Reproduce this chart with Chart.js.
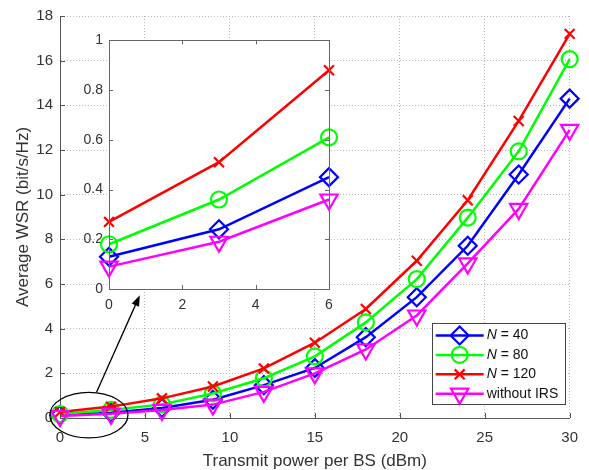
<!DOCTYPE html>
<html>
<head>
<meta charset="utf-8">
<script src="https://cdn.jsdelivr.net/npm/chart.js"></script>
<style>
  html, body { margin: 0; padding: 0; background: #fff; }
  #wrap { position: relative; width: 589px; height: 470px; }
  #mainChart { position: absolute; left: 0; top: 0; }
  #insetChart { position: absolute; left: 64px; top: 26px; }
</style>
</head>
<body>
<div id="wrap">
  <canvas id="mainChart" width="589" height="470"></canvas>
  <canvas id="insetChart" width="280" height="300"></canvas>
</div>
<script>
// Transmit power per BS (dBm)
const powerDbm = [0, 3, 6, 9, 12, 15, 18, 21, 24, 27, 30];
// Average WSR (bit/s/Hz)
const wsrN40   = [0.13, 0.24, 0.45, 0.82, 1.47, 2.24, 3.62, 5.41, 7.71, 10.9, 14.3];
const wsrN80   = [0.18, 0.36, 0.61, 1.10, 1.78, 2.76, 4.28, 6.22, 8.97, 11.94, 16.07];
const wsrN120  = [0.27, 0.51, 0.88, 1.41, 2.22, 3.37, 4.88, 7.04, 9.75, 13.3, 17.2];
const wsrNoIrs = [0.09, 0.19, 0.36, 0.60, 1.17, 2.00, 3.07, 4.59, 6.92, 9.36, 12.9];

const seriesNames = ['N = 40', 'N = 80', 'N = 120', 'without IRS'];

const mainXTicks = [0, 5, 10, 15, 20, 25, 30];
const mainYTicks = [0, 2, 4, 6, 8, 10, 12, 14, 16, 18];
const insetXTicks = [0, 2, 4, 6];
const insetYTicks = [0, 0.2, 0.4, 0.6, 0.8, 1];
const insetCount = 3; // zoomed view shows the first three power levels

const FONT = '"Liberation Sans", Arial, Helvetica, sans-serif';
const TEXT = '#333333';
const AXIS = '#555555';

const markers = [
    { color: '#0000ff', pointStyle: 'rectRot', radius: 9, rotation: 0 },
    { color: '#00ff00', pointStyle: 'circle', radius: 8, rotation: 0 },
    { color: '#ff0000', pointStyle: 'crossRot', radius: 7, rotation: 0 },
    { color: '#ff00ff', pointStyle: 'triangle', radius: 10, rotation: 180 }
];
const allSeries = [wsrN40, wsrN80, wsrN120, wsrNoIrs];

function makeDatasets(count) {
    return allSeries.map((vals, i) => ({
        label: seriesNames[i],
        data: powerDbm.slice(0, count).map((p, k) => ({ x: p, y: vals[k] })),
        borderColor: markers[i].color,
        backgroundColor: 'rgba(0,0,0,0)',
        borderWidth: 2.5,
        pointStyle: markers[i].pointStyle,
        pointRadius: markers[i].radius,
        pointRotation: markers[i].rotation,
        pointBorderWidth: 2.2,
        pointBorderColor: markers[i].color,
        pointBackgroundColor: 'rgba(0,0,0,0)',
        tension: 0,
        clip: false,
        order: 3 - i
    }));
}

function setTicks(arr) {
    return scale => { scale.ticks = arr.map(v => ({ value: v })); };
}

// own marker drawing for the legend
function drawMarker(ctx, m, x, y) {
    const r = m.radius;
    ctx.save();
    ctx.strokeStyle = m.color;
    ctx.lineWidth = 2.2;
    ctx.beginPath();
    if (m.pointStyle === 'rectRot') {
        ctx.moveTo(x, y - r); ctx.lineTo(x + r, y); ctx.lineTo(x, y + r); ctx.lineTo(x - r, y); ctx.closePath();
    } else if (m.pointStyle === 'circle') {
        ctx.arc(x, y, r, 0, Math.PI * 2);
    } else if (m.pointStyle === 'crossRot') {
        const d = r * Math.SQRT1_2;
        ctx.moveTo(x - d, y - d); ctx.lineTo(x + d, y + d);
        ctx.moveTo(x + d, y - d); ctx.lineTo(x - d, y + d);
    } else {
        const a = r * Math.sin(Math.PI / 3), b = r / 2;
        ctx.moveTo(x, y + r); ctx.lineTo(x - a, y - b); ctx.lineTo(x + a, y - b); ctx.closePath();
    }
    ctx.stroke();
    ctx.restore();
}

const mainDecor = {
    id: 'mainDecor',
    afterDatasetsDraw(chart) {
        const { ctx, chartArea, scales: { x, y } } = chart;
        ctx.save();
        // inward ticks
        ctx.strokeStyle = AXIS;
        ctx.lineWidth = 1;
        ctx.beginPath();
        mainXTicks.forEach(v => {
            const px = Math.round(x.getPixelForValue(v)) + 0.5;
            ctx.moveTo(px, chartArea.bottom); ctx.lineTo(px, chartArea.bottom - 5);
        });
        mainYTicks.forEach(v => {
            const py = Math.round(y.getPixelForValue(v)) + 0.5;
            ctx.moveTo(chartArea.left, py); ctx.lineTo(chartArea.left + 5, py);
        });
        ctx.stroke();

        // ellipse around the zoomed region
        const cx = x.getPixelForValue(1.7), cy = y.getPixelForValue(0.13);
        const rx = x.getPixelForValue(1.7 + 2.3) - cx;
        const ry = cy - y.getPixelForValue(0.13 + 1.02);
        ctx.strokeStyle = '#000';
        ctx.lineWidth = 1.3;
        ctx.beginPath();
        ctx.ellipse(cx, cy, rx, ry, 0, 0, Math.PI * 2);
        ctx.stroke();

        // arrow to the inset
        const x0 = x.getPixelForValue(2.15), y0 = y.getPixelForValue(1.15);
        const x1 = x.getPixelForValue(4.7), y1 = y.getPixelForValue(5.5);
        const ang = Math.atan2(y1 - y0, x1 - x0);
        ctx.beginPath();
        ctx.moveTo(x0, y0);
        ctx.lineTo(x1 - 9 * Math.cos(ang), y1 - 9 * Math.sin(ang));
        ctx.stroke();
        ctx.fillStyle = '#000';
        ctx.beginPath();
        ctx.moveTo(x1, y1);
        ctx.lineTo(x1 - 11 * Math.cos(ang) + 4 * Math.sin(ang), y1 - 11 * Math.sin(ang) - 4 * Math.cos(ang));
        ctx.lineTo(x1 - 11 * Math.cos(ang) - 4 * Math.sin(ang), y1 - 11 * Math.sin(ang) + 4 * Math.cos(ang));
        ctx.closePath();
        ctx.fill();
        ctx.restore();
    },
    afterDraw(chart) {
        // legend box, bottom right
        const { ctx, chartArea } = chart;
        const w = 133, h = 81;
        const left = chartArea.right - w - 5, top = chartArea.bottom - h - 14;
        ctx.save();
        ctx.fillStyle = '#fff';
        ctx.fillRect(left, top, w, h);
        ctx.strokeStyle = '#444';
        ctx.lineWidth = 1;
        ctx.strokeRect(Math.round(left) + 0.5, Math.round(top) + 0.5, w, h);
        ctx.textBaseline = 'middle';
        seriesNames.forEach((name, i) => {
            const ry = top + 12.5 + i * 19.4;
            ctx.strokeStyle = markers[i].color;
            ctx.lineWidth = 2.5;
            ctx.beginPath();
            ctx.moveTo(left + 4, ry); ctx.lineTo(left + 52, ry);
            ctx.stroke();
            drawMarker(ctx, markers[i], left + 28, ry);
            ctx.fillStyle = '#111';
            let tx = left + 55;
            if (name.startsWith('N')) {
                ctx.font = 'italic 14px ' + FONT;
                ctx.fillText('N', tx, ry);
                tx += ctx.measureText('N').width;
                ctx.font = '14px ' + FONT;
                ctx.fillText(name.slice(1), tx, ry);
            } else {
                ctx.font = '14px ' + FONT;
                ctx.fillText(name, tx, ry);
            }
        });
        ctx.restore();
    }
};

new Chart(document.getElementById('mainChart'), {
    type: 'line',
    data: { datasets: makeDatasets(powerDbm.length) },
    options: {
        responsive: false,
        animation: false,
        layout: { padding: { top: 14, right: 16, left: 0, bottom: 0 } },
        plugins: { legend: { display: false }, tooltip: { enabled: false } },
        scales: {
            x: {
                type: 'linear', min: 0, max: 30,
                afterBuildTicks: setTicks(mainXTicks),
                afterFit: s => { s.height = 52; },
                ticks: { color: TEXT, font: { family: FONT, size: 15 }, padding: 11, callback: v => String(v) },
                grid: { color: '#b8b8b8', lineWidth: 1, drawTicks: false },
                border: { color: AXIS, width: 1, dash: [1, 2] },
                title: { display: true, text: 'Transmit power per BS (dBm)', color: TEXT, font: { family: FONT, size: 17, lineHeight: 1 }, padding: { top: 0, bottom: 0 } }
            },
            y: {
                type: 'linear', min: 0, max: 18,
                afterBuildTicks: setTicks(mainYTicks),
                afterFit: s => { s.width = 60; },
                ticks: { color: TEXT, font: { family: FONT, size: 15 }, padding: 7, callback: v => String(v) },
                grid: { color: '#b8b8b8', lineWidth: 1, drawTicks: false },
                border: { color: AXIS, width: 1, dash: [1, 2] },
                title: { display: true, text: 'Average WSR (bit/s/Hz)', color: TEXT, font: { family: FONT, size: 17, lineHeight: 1 }, padding: { top: 15, bottom: 15 } }
            }
        }
    },
    plugins: [mainDecor]
});

const insetDecor = {
    id: 'insetDecor',
    beforeDraw(chart) {
        const { ctx, chartArea: a } = chart;
        ctx.save();
        ctx.fillStyle = '#fff';
        ctx.fillRect(a.left, a.top, a.right - a.left, a.bottom - a.top);
        ctx.restore();
    },
    afterDraw(chart) {
        const { ctx, chartArea: a, scales: { x, y } } = chart;
        ctx.save();
        ctx.strokeStyle = '#666';
        ctx.lineWidth = 1;
        ctx.strokeRect(Math.round(a.left) + 0.5, Math.round(a.top) + 0.5, Math.round(a.right - a.left), Math.round(a.bottom - a.top));
        ctx.beginPath();
        insetXTicks.forEach(v => {
            const px = Math.round(x.getPixelForValue(v)) + 0.5;
            ctx.moveTo(px, a.bottom); ctx.lineTo(px, a.bottom - 4);
            ctx.moveTo(px, a.top); ctx.lineTo(px, a.top + 4);
        });
        insetYTicks.forEach(v => {
            const py = Math.round(y.getPixelForValue(v)) + 0.5;
            ctx.moveTo(a.left, py); ctx.lineTo(a.left + 4, py);
            ctx.moveTo(a.right, py); ctx.lineTo(a.right - 4, py);
        });
        ctx.stroke();
        ctx.restore();
    }
};

new Chart(document.getElementById('insetChart'), {
    type: 'line',
    data: { datasets: makeDatasets(insetCount) },
    options: {
        responsive: false,
        animation: false,
        layout: { padding: { top: 13, right: 15, left: 0, bottom: 0 } },
        plugins: { legend: { display: false }, tooltip: { enabled: false } },
        scales: {
            x: {
                type: 'linear', min: 0, max: 6,
                afterBuildTicks: setTicks(insetXTicks),
                afterFit: s => { s.height = 37; },
                ticks: { color: TEXT, font: { family: FONT, size: 14 }, padding: 8, callback: v => String(v) },
                grid: { display: false, drawTicks: false },
                border: { display: false }
            },
            y: {
                type: 'linear', min: 0, max: 1,
                afterBuildTicks: setTicks(insetYTicks),
                afterFit: s => { s.width = 45; },
                ticks: { color: TEXT, font: { family: FONT, size: 14 }, padding: 6, callback: v => String(v) },
                grid: { display: false, drawTicks: false },
                border: { display: false }
            }
        }
    },
    plugins: [insetDecor]
});
</script>
</body>
</html>
